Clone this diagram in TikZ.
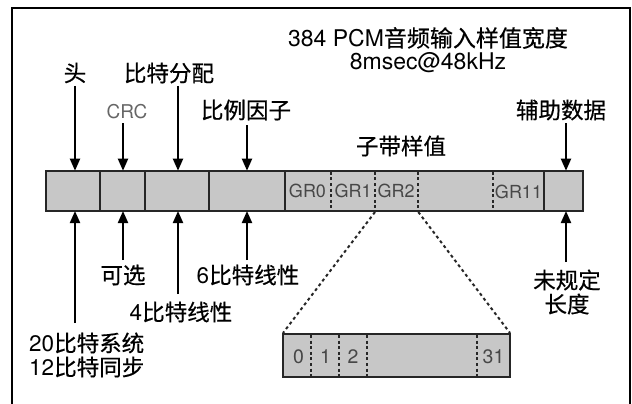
\documentclass[tikz,border=0pt]{standalone}
\usepackage{fontspec}
\setmainfont{TeX Gyre Heros}
\newfontfamily\cjk[FakeBold=0.5]{Noto Sans CJK SC}
\usetikzlibrary{arrows.meta}
\begin{document}
\begin{tikzpicture}[x=1pt,y=-1pt,
  lbl/.style={font=\fontsize{22.5}{24}\selectfont, inner sep=0pt, align=center},
  ttl/.style={font=\fontsize{23}{25}\selectfont, inner sep=0pt, align=center},
  crc/.style={font=\fontsize{19}{21}\selectfont, text=black!60, inner sep=0pt},
  grl/.style={font=\fontsize{18}{20}\selectfont, text=black!72, inner sep=0pt},
  dig/.style={font=\fontsize{19.5}{21}\selectfont, text=black!72, inner sep=0pt},
  arr/.style={line width=2pt, -{Triangle[length=12pt,width=10pt]}},
  soliddiv/.style={draw=black!85, line width=2.2pt},
  dotdiv/.style={draw=black!85, line width=2pt, dash pattern=on 3pt off 2.6pt},
  zoomline/.style={draw=black!85, line width=2pt, dash pattern=on 3pt off 3pt},
]
\useasboundingbox (0,0) rectangle (632,404);
\draw[line width=2pt] (12,410) -- (12,8) -- (630,8) -- (630,410);

% main bar
\path[fill=black!22] (45.7,170.7) rectangle (583.3,211);
\foreach \x in {100,145,209,285,544} \draw[soliddiv] (\x,170.7) -- (\x,211);
\foreach \x in {330.7,375,418.3,493.3} \draw[dotdiv] (\x,171.8) -- (\x,210);
\draw[soliddiv] (45.7,170.7) rectangle (583.3,211);

\node[grl] (gr0) at (307.5,191) {GR0};
\node[grl] (gr1) at (353,191) {GR1};
\node[grl] (gr2) at (396,191) {GR2};
\node[grl] (gr11) at (518.5,191.5) {GR11};

% zoomed sub box
\path[fill=black!22] (283,334) rectangle (510,377);
\foreach \x in {311.4,339.4,367.4,477} \draw[dotdiv] (\x,335) -- (\x,376);
\draw[soliddiv] (283,334) rectangle (510,377);
\node[dig] (d0) at (298.5,357) {0};
\node[dig] (d1) at (325.5,357) {1};
\node[dig] (d2) at (353,357) {2};
\node[dig] (d31) at (493.5,357) {31};

\coordinate (gl) at (375,212);
\coordinate (gr) at (418.3,212);
\coordinate (sl) at (283,333);
\coordinate (sr) at (510,333);
\draw[zoomline] (gl) -- (sl);
\draw[zoomline] (gr) -- (sr);

% title
\node[ttl] (title) at (428,38) {384 PCM{\cjk 音频输入样值宽度}};
\node[ttl] (rate) at (428,63) {8msec@48kHz};

% top labels
\node[lbl] (tou) at (75,73) {\cjk 头};
\node[lbl] (bitalloc) at (169,73) {\cjk 比特分配};
\node[crc] (crc) at (127,112) {CRC};
\node[lbl] (scale) at (246,110) {\cjk 比例因子};
\node[lbl] (sub) at (401,146) {\cjk 子带样值};
\node[lbl] (aux) at (561,110) {\cjk 辅助数据};

\coordinate (t1s) at (75,86);   \coordinate (t1e) at (75,170.7);
\coordinate (t2s) at (123,123); \coordinate (t2e) at (123,170.7);
\coordinate (t3s) at (178,86);  \coordinate (t3e) at (178,170.7);
\coordinate (t4s) at (247,125); \coordinate (t4e) at (247,170.7);
\coordinate (t5s) at (566,123); \coordinate (t5e) at (566,170.7);
\draw[arr] (t1s) -- (t1e);
\draw[arr] (t2s) -- (t2e);
\draw[arr] (t3s) -- (t3e);
\draw[arr] (t4s) -- (t4e);
\draw[arr] (t5s) -- (t5e);

% bottom labels
\node[lbl] (opt) at (123,275) {\cjk 可选};
\node[lbl] (six) at (248,275) {6{\cjk 比特线性}};
\node[lbl] (four) at (181,312) {4{\cjk 比特线性}};
\node[lbl, align=left, anchor=west] (sync) at (29,355) {20{\cjk 比特系统}\\12{\cjk 比特同步}};
\node[lbl] (unspec) at (567,292) {\cjk 未规定\\\cjk 长度};

\coordinate (b1s) at (75,323);  \coordinate (b1e) at (75,211);
\coordinate (b2s) at (123,260); \coordinate (b2e) at (123,211);
\coordinate (b3s) at (178,294); \coordinate (b3e) at (178,211);
\coordinate (b4s) at (247,260); \coordinate (b4e) at (247,211);
\coordinate (b5s) at (566,262); \coordinate (b5e) at (566,211);
\draw[arr] (b1s) -- (b1e);
\draw[arr] (b2s) -- (b2e);
\draw[arr] (b3s) -- (b3e);
\draw[arr] (b4s) -- (b4e);
\draw[arr] (b5s) -- (b5e);
\end{tikzpicture}
\end{document}
